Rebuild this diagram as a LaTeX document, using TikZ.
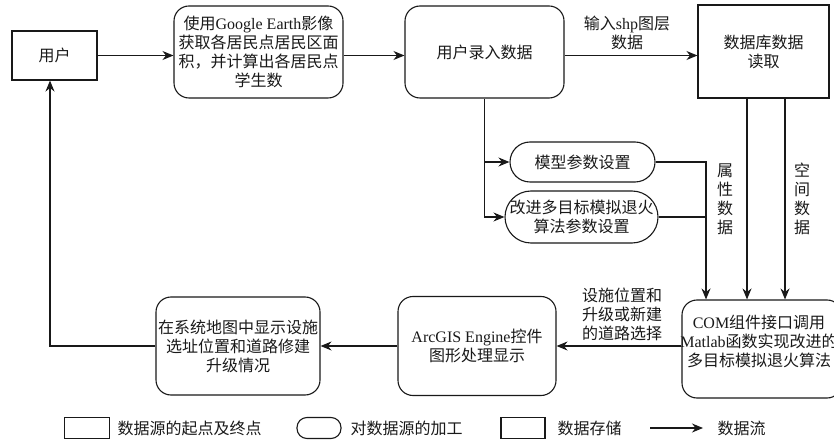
\documentclass[tikz,border=0pt]{standalone}
\usepackage{fontspec}
\setmainfont{Noto Sans CJK SC}
\newfontfamily\latf{Liberation Serif}
\newcommand{\lat}[1]{{\latf #1}}
\usetikzlibrary{arrows.meta}
\begin{document}
\begin{tikzpicture}[x=1pt,y=-1pt, line width=1.1pt, color={black!90},
  every node/.style={font=\fontsize{16}{19}\selectfont, align=center, inner sep=0pt},
  sq/.style={draw, rectangle},
  rnd/.style={draw, rounded corners=15pt},
  flow/.style={-{Stealth[length=11pt,width=9pt]}}]
\useasboundingbox (0,0) rectangle (834,443);
% main nodes
\node[sq, minimum width=85pt, minimum height=49pt] (user) at (54.5,55.5) {用户};
\node[rnd, minimum width=169pt, minimum height=92pt] (ge) at (258.5,52) {使用\lat{Google Earth}影像\\获取各居民点居民区面\\积，并计算出各居民点\\学生数};
\node[rnd, minimum width=159pt, minimum height=92pt] (inp) at (484.5,52) {用户录入数据};
\node[sq, minimum width=131pt, minimum height=93pt] (db) at (763.5,51.5) {数据库数据\\读取};
\node[draw, rounded corners=20pt, minimum width=145pt, minimum height=40pt] (model) at (582.5,162) {模型参数设置};
\node[draw, rounded corners=26pt, minimum width=153pt, minimum height=52pt] (sa) at (581.5,217) {改进多目标模拟退火\\算法参数设置};
\node[rnd, minimum width=160pt, minimum height=98pt] (com) at (762,349) {};
\node (comt) at (759,341) {\lat{COM}组件接口调用\\\lat{Matlab}函数实现改进的\\多目标模拟退火算法};
\node[rnd, minimum width=158pt, minimum height=99pt] (arc) at (477,346) {\lat{ArcGIS Engine}控件\\图形处理显示};
\node[rnd, minimum width=164pt, minimum height=98pt] (disp) at (238,346) {在系统地图中显示设施\\选址位置和道路修建\\升级情况};
% labels
\node (lshp) at (627,33) {输入\lat{shp}图层\\数据};
\node (lsel) at (622,314) {设施位置和\\升级或新建\\的道路选择};
\node (lattr) at (725,199) {属\\性\\数\\据};
\node (lspace) at (802,199) {空\\间\\数\\据};
% helper coordinates
\coordinate (a0) at (50,0);
\coordinate (a1) at (706,0);
\coordinate (a2) at (747,0);
\coordinate (a3) at (785,0);
\coordinate (a4) at (0,346);
% connectors
\draw[flow] (user.east) -- (user.east -| ge.west);
\draw[flow] (ge.east |- user.east) -- (inp.west |- user.east);
\draw[flow] (inp.east |- user.east) -- (db.west |- user.east);
\draw[flow] (inp.south) |- (sa.west);
\draw[flow] (inp.south |- model.west) -- (model.west);
\draw[flow] (model.east) -| (a1 |- com.north);
\draw (sa.east) -- (sa.east -| a1);
\draw[flow] (a2 |- db.south) -- (a2 |- com.north);
\draw[flow] (a3 |- db.south) -- (a3 |- com.north);
\draw[flow] (com.west |- a4) -- (arc.east |- a4);
\draw[flow] (arc.west) -- (disp.east);
\draw[flow] (disp.west) -| (a0 |- user.south);
% legend
\node[sq, minimum width=45pt, minimum height=21pt] (l1) at (87,428) {};
\node[anchor=west] (l1t) at (117,428) {数据源的起点及终点};
\node[draw, rounded corners=10pt, minimum width=44pt, minimum height=21pt] (l2) at (319,428) {};
\node[anchor=west] (l2t) at (350,428) {对数据源的加工};
\node[sq, minimum width=44pt, minimum height=21pt] (l3) at (523,428) {};
\node[anchor=west] (l3t) at (557,428) {数据存储};
\coordinate (l4a) at (650,428);
\coordinate (l4b) at (703,428);
\draw[flow] (l4a) -- (l4b);
\node[anchor=west] (l4t) at (717,428) {数据流};
\end{tikzpicture}
\end{document}
